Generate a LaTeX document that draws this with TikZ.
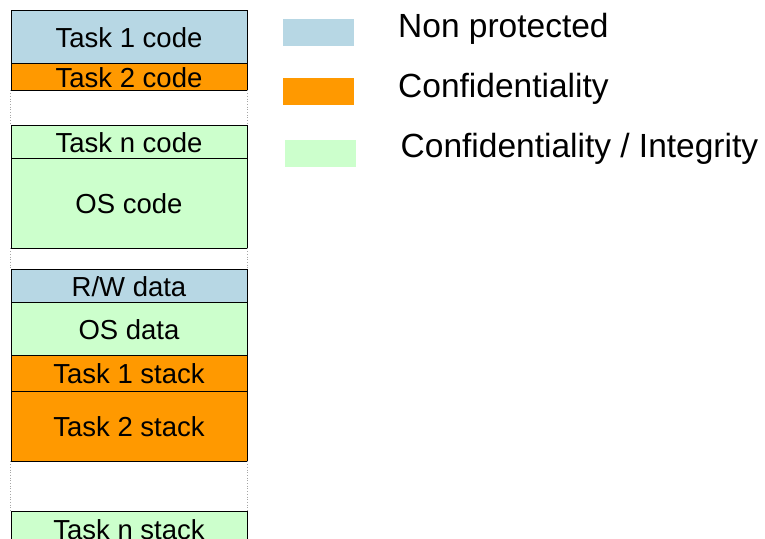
\documentclass[tikz,border=0pt]{standalone}
\usepackage{fontspec}
\setmainfont{Liberation Sans}
\definecolor{npblue}{RGB}{183,215,228}
\definecolor{confor}{RGB}{255,153,0}
\definecolor{cigreen}{RGB}{204,255,204}
\tikzset{
  seg/.style={draw=black, line width=0.9pt, rectangle, inner sep=0pt,
    minimum width=236pt, text height=21.6pt, text depth=0pt,
    font=\fontsize{27.5pt}{30pt}\selectfont},
  gapline/.style={draw=gray!70, dotted, line width=0.7pt},
  swatch/.style={rectangle, inner sep=0pt, minimum width=71pt, minimum height=27pt},
  legtext/.style={anchor=base west, inner sep=0pt, font=\fontsize{33.5pt}{36pt}\selectfont}
}
\begin{document}
\begin{tikzpicture}[x=1pt,y=-1pt]
\clip (0,0) rectangle (765,538);
\fill[white] (0,0) rectangle (765,538);

% memory map, top to bottom
\node[seg, fill=npblue,  minimum height=53] (t1code)  at (129,36.5)  {Task 1 code};
\node[seg, fill=confor,  minimum height=27] (t2code)  at (129,76.5)  {Task 2 code};
\node[seg, fill=cigreen, minimum height=33] (tncode)  at (129,141.5) {Task n code};
\node[seg, fill=cigreen, minimum height=90] (oscode)  at (129,203)   {OS code};
\node[seg, fill=npblue,  minimum height=33] (rwdata)  at (129,285.5) {R/W data};
\node[seg, fill=cigreen, minimum height=53] (osdata)  at (129,328.5) {OS data};
\node[seg, fill=confor,  minimum height=36] (t1stack) at (129,373)   {Task 1 stack};
\node[seg, fill=confor,  minimum height=70] (t2stack) at (129,426)   {Task 2 stack};
\node[seg, fill=cigreen, minimum height=36] (tnstack) at (129,529)   {Task n stack};

% unused address ranges
\draw[gapline] (t2code.south west) -- (tncode.north west);
\draw[gapline] (t2code.south east) -- (tncode.north east);
\draw[gapline] (oscode.south west) -- (rwdata.north west);
\draw[gapline] (oscode.south east) -- (rwdata.north east);
\draw[gapline] (t2stack.south west) -- (tnstack.north west);
\draw[gapline] (t2stack.south east) -- (tnstack.north east);

% legend
\node[swatch, fill=npblue]  (lgblue)   at (318.5,32.5)  {};
\node[swatch, fill=confor]  (lgorange) at (318.5,91.5)  {};
\node[swatch, fill=cigreen] (lggreen)  at (320.5,153.5) {};
\node[legtext] (lbnp) at (398,37.5)  {Non protected};
\node[legtext] (lbc)  at (398,97.5)  {Confidentiality};
\node[legtext] (lbci) at (400.5,157.5) {Confidentiality / Integrity};
\end{tikzpicture}
\end{document}
